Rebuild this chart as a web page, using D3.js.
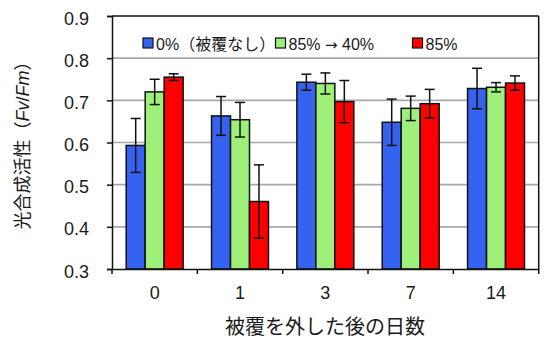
<!DOCTYPE html>
<html><head><meta charset="utf-8">
<script src="https://cdn.jsdelivr.net/npm/d3@7"></script>
<style>
body{margin:0;background:#fff;}
svg text{font-family:"Liberation Sans",Arial,"Noto Sans CJK JP",sans-serif;}
</style></head>
<body><svg id="c" width="544" height="338"></svg>
<script>
const categories = ["0","1","3","7","14"];
const seriesNames = ["0%（被覆なし）","85% → 40%","85%"];
const seriesColors = ["#3563f0","#9ff07a","#ff0000"];
const values0 = [0.593,0.663,0.743,0.648,0.728];
const values85to40 = [0.720,0.654,0.740,0.681,0.731];
const values85 = [0.755,0.460,0.697,0.692,0.741];
const err0 = [0.064,0.046,0.019,0.055,0.048];
const err85to40 = [0.030,0.041,0.025,0.029,0.011];
const err85 = [0.008,0.087,0.050,0.034,0.017];
const yTicks = [0.3,0.4,0.5,0.6,0.7,0.8,0.9];

const series = [
  {name:seriesNames[0], color:seriesColors[0], v:values0, e:err0},
  {name:seriesNames[1], color:seriesColors[1], v:values85to40, e:err85to40},
  {name:seriesNames[2], color:seriesColors[2], v:values85, e:err85}
];

const L=112, R=538.7, T=16, B=269;
const svg = d3.select("#c");
const y = d3.scaleLinear().domain([0.3,0.9]).range([B,T]);
const x0 = d3.scaleBand().domain(categories).range([L,R]);
const bw = x0.bandwidth();
const x1 = d3.scaleBand().domain(d3.range(3)).range([14.2, bw-14.2]);

// gridlines
svg.append("g").selectAll("line").data(yTicks.slice(1,-1)).join("line")
  .attr("x1",L).attr("x2",R).attr("y1",d=>y(d)).attr("y2",d=>y(d))
  .attr("stroke","#a8a8a8").attr("stroke-width",1.6);

// bars
series.forEach((s,si)=>{
  const g = svg.append("g");
  g.selectAll("rect").data(categories).join("rect")
    .attr("x",(c)=>x0(c)+x1(si))
    .attr("width",x1.bandwidth())
    .attr("y",(c,i)=>y(s.v[i]))
    .attr("height",(c,i)=>B-y(s.v[i]))
    .attr("fill",s.color).attr("stroke","#111").attr("stroke-width",1.5);
});
// error bars
series.forEach((s,si)=>{
  const g = svg.append("g").attr("stroke","#111").attr("stroke-width",1.5);
  categories.forEach((c,i)=>{
    const cx = x0(c)+x1(si)+x1.bandwidth()/2;
    const y1=y(s.v[i]+s.e[i]), y2=y(s.v[i]-s.e[i]);
    g.append("line").attr("x1",cx).attr("x2",cx).attr("y1",y1).attr("y2",y2);
    g.append("line").attr("x1",cx-5).attr("x2",cx+5).attr("y1",y1).attr("y2",y1);
    g.append("line").attr("x1",cx-5).attr("x2",cx+5).attr("y1",y2).attr("y2",y2);
  });
});

// frame
svg.append("line").attr("x1",L).attr("x2",R).attr("y1",T).attr("y2",T).attr("stroke","#111").attr("stroke-width",1.5);
svg.append("line").attr("x1",R).attr("x2",R).attr("y1",T).attr("y2",B).attr("stroke","#111").attr("stroke-width",1.5);

// y axis
const yAxis = d3.axisLeft(y).tickValues(yTicks).tickFormat(d3.format(".1f")).tickSize(5).tickPadding(18);
const ya = svg.append("g").attr("transform",`translate(${L},0)`).call(yAxis);
ya.select(".domain").attr("stroke","#111").attr("stroke-width",1.5);
ya.selectAll(".tick line").attr("stroke","#111").attr("stroke-width",1.5);
ya.selectAll("text").attr("font-size",18).attr("fill","#1a1a1a").attr("dy","0.45em");

// x axis
const xAxis = d3.axisBottom(x0).tickSize(0).tickPadding(17);
const xa = svg.append("g").attr("transform",`translate(0,${B})`).call(xAxis);
xa.select(".domain").attr("stroke","#111").attr("stroke-width",1.5);
xa.selectAll("text").attr("font-size",18).attr("fill","#1a1a1a");
xa.selectAll(".bnd").data(categories.concat(["end"])).join("line")
  .attr("x1",(d,i)=>L+i*bw).attr("x2",(d,i)=>L+i*bw).attr("y1",0).attr("y2",5)
  .attr("stroke","#111").attr("stroke-width",1.5);

// legend
const legX = [143, 275.5, 412.5];
const lg = svg.append("g");
series.forEach((s,i)=>{
  lg.append("rect").attr("x",legX[i]).attr("y",38).attr("width",10).attr("height",10)
    .attr("fill",s.color).attr("stroke","#111").attr("stroke-width",1.2);
  const t = lg.append("text").attr("x",legX[i]+13).attr("y",49.5).attr("font-size",16).attr("fill","#1a1a1a");
  s.name.split(/(→)/).forEach(part=>{
    const ts = t.append("tspan").text(part);
    if (part === "→") ts.attr("font-family","DejaVu Sans").attr("font-size",15);
  });
});

// axis titles
svg.append("text").attr("x",325).attr("y",334).attr("text-anchor","middle")
  .attr("font-size",20).attr("fill","#1a1a1a").text("被覆を外した後の日数");
const yt = svg.append("text").attr("transform","translate(29,141) rotate(-90)")
  .attr("text-anchor","middle").attr("font-size",18).attr("fill","#1a1a1a");
yt.append("tspan").text("光合成活性（");
yt.append("tspan").attr("font-style","italic").text("Fv");
yt.append("tspan").text("/");
yt.append("tspan").attr("font-style","italic").text("Fm");
yt.append("tspan").text("）");
</script></body></html>
